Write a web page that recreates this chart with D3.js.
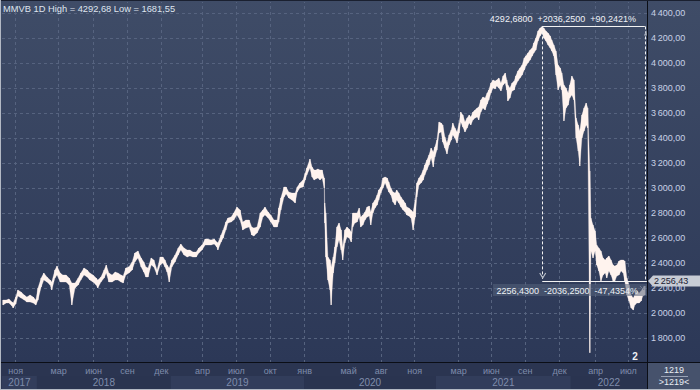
<!DOCTYPE html>
<html>
<head>
<meta charset="utf-8">
<script src="https://cdnjs.cloudflare.com/ajax/libs/d3/7.8.5/d3.min.js"></script>
<style>
html,body{margin:0;padding:0;background:#2b3551;}
svg{display:block;}
text{font-family:"Liberation Sans",Arial,sans-serif;}
</style>
</head>
<body>
<svg id="chart" width="700" height="390"></svg>
<script>
const ticker = "MMVB";
const timeframe = "1D";
const totalBars = 1219;

const bars = [2,8,13,19,21,26,30,36,42,47,
53,59,64,68,74,79,85,91,94,100,
104,110,115,121,127,132,138,144,149,155,
161,166,172,178,181,187,193,197,202,208,
214,219,225,229,234,240,246,251,257,263,
268,272,276,282,287,293,299,304,308,312,
316,321,327,333,338,344,350,355,361,367,
372,378,384,389,395,401,406,408,414,418,
423,427,433,438,444,450,455,461,467,472,
476,482,488,493,497,503,508,514,520,523,
527,533,537,542,548,554,558,563,569,573,
576,582,586,590,593,597,601,605,609,610,
612,616,620,622,626,629,633,637,641,644,
648,652,656,660,663,667,671,675,678,682,
686,690,694,697,701,705,709,712,716,720,
724,728,731,735,739,743,746,750,754,758,
762,765,769,773,777,781,784,788,792,796,
799,803,807,811,815,818,822,826,830,833,
837,841,845,849,852,856,860,864,867,871,
875,879,883,886,890,894,898,901,905,909,
913,917,920,924,928,932,935,939,943,947,
951,954,956,960,964,968,971,975,979,983,
987,990,994,998,1002,1005,1009,1013,1017,1021,
1024,1028,1032,1036,1039,1043,1047,1051,1055,1058,
1062,1066,1070,1073,1077,1081,1085,1089,1092,1096,
1100,1104,1107,1111,1113,1117,1121,1124,1128,1132,
1136,1140,1143,1147,1151,1155,1158,1162,1166,1170,
1174,1177,1181,1185,1189,1193,1196,1200,1204,1208,
1211,1215];

const highs = [2104,2104,2112,2088,2080,2128,2184,2168,2144,2128,
2144,2128,2104,2200,2280,2320,2288,2264,2248,2344,
2376,2320,2304,2304,2280,2240,2240,2280,2320,2360,
2344,2320,2304,2280,2264,2288,2344,2384,2320,2304,
2328,2320,2304,2296,2360,2370,2408,2480,2496,2440,
2408,2368,2360,2440,2424,2344,2448,2448,2424,2384,
2360,2424,2464,2520,2552,2520,2504,2504,2488,2488,
2520,2544,2592,2592,2584,2592,2568,2560,2624,2664,
2728,2760,2768,2800,2848,2824,2728,2744,2744,2688,
2680,2688,2800,2824,2848,2808,2784,2744,2744,2840,
2920,3008,3008,2968,2960,2960,3008,3040,3064,3120,
3160,3232,3168,3144,3144,3152,3144,3144,3080,2880,
2800,2448,2424,2368,2448,2528,2688,2720,2664,2528,
2664,2688,2672,2648,2800,2800,2800,2840,2768,2784,
2808,2848,2856,2808,2880,2904,2944,2984,3008,3080,
3088,3080,3048,3000,2968,2960,2984,2960,2928,2904,
2880,2848,2840,2824,2808,2904,3040,3080,3104,3144,
3184,3224,3264,3320,3288,3328,3384,3528,3520,3504,
3408,3360,3424,3464,3520,3480,3448,3520,3608,3584,
3528,3560,3584,3568,3608,3624,3640,3648,3704,3728,
3720,3760,3784,3840,3864,3856,3864,3880,3840,3896,
3920,3864,3824,3800,3840,3856,3896,3936,3960,3984,
4040,4056,4080,4104,4120,4160,4200,4256,4280,4292.68,
4280,4256,4240,4216,4184,4144,4096,3984,3960,3920,
3824,3800,3760,3824,3896,3864,3560,3504,3456,3584,
3640,3680,3640,3136,2760,2704,2656,2544,2520,2496,
2440,2424,2440,2456,2424,2384,2376,2384,2416,2424,
2424,2416,2280,2224,2144,2120,2144,2176,2160,2176,
2200,2216];

const lows = [2064,2080,2080,2056,2040,2072,2136,2120,2104,2088,
2088,2080,2064,2104,2208,2264,2248,2224,2184,2280,
2304,2248,2248,2248,2224,2064,2200,2224,2264,2304,
2288,2264,2248,2224,2200,2248,2280,2320,2248,2248,
2264,2264,2248,2240,2304,2320,2344,2408,2440,2368,
2328,2288,2288,2384,2368,2304,2384,2400,2368,2328,
2248,2368,2408,2464,2504,2464,2448,2456,2448,2448,
2480,2504,2544,2544,2544,2552,2528,2504,2568,2600,
2664,2720,2728,2744,2784,2744,2664,2680,2688,2624,
2616,2640,2688,2768,2784,2760,2728,2688,2688,2728,
2824,2928,2952,2920,2904,2880,2968,3000,3008,3064,
3104,3160,3088,3064,3072,3080,3064,3080,3000,2720,
2448,2264,2184,2064,2320,2400,2528,2584,2504,2424,
2560,2608,2600,2568,2688,2720,2728,2768,2688,2704,
2744,2768,2776,2704,2800,2840,2864,2904,2960,3000,
3040,3000,2968,2944,2888,2864,2904,2880,2848,2824,
2808,2784,2776,2760,2664,2768,2928,3024,3040,3064,
3104,3144,3184,3240,3168,3248,3304,3440,3448,3368,
3320,3272,3344,3384,3424,3400,3360,3440,3528,3488,
3448,3480,3520,3504,3544,3560,3568,3544,3608,3640,
3624,3672,3704,3760,3800,3792,3816,3800,3776,3824,
3840,3784,3696,3720,3776,3784,3824,3856,3880,3904,
3944,3976,4000,4024,4056,4080,4104,4176,4216,4240,
4200,4176,4144,4120,4096,4056,3904,3784,3824,3784,
3536,3640,3664,3720,3744,3704,3400,3296,3176,3400,
3456,3504,3480,1681.55,2496,2440,2496,2384,2336,2256,
2304,2320,2280,2336,2304,2256,2256,2296,2304,2336,
2320,2256,2144,2096,2040,2024,2064,2080,2080,2096,
2136,2144];

const priceTicks = [1800,2000,2200,2400,2600,2800,3000,3200,3400,3600,3800,4000,4200,4400];
const monthTicks = [25,106,172,236,300,378,442,506,571,654,716,779,862,924,988,1053,1121,1183];
const monthLabels = ["ноя","мар","июн","сен","дек","апр","июл","окт","янв","май","авг","ноя","мар","июн","сен","дек","апр","июл"];
const yearStarts = [0,66,319,571,820,1075];
const yearLabels = ["2017","2018","2019","2020","2021","2022"];
const measureBars = [1021,1215];
const measureValues = [4292.68,2256.43];
const lastValue = 2256.43;
const pageMarker = "2";

const W = 700, H = 390;
const plotL = 2, plotR = 647, plotT = 2, plotB = 362;
const svg = d3.select("#chart");

const loc = d3.formatLocale({decimal:",", thousands:"\u2009", grouping:[3], currency:["",""], minus:"-"});
const fmtAxis = loc.format(",.2f");
const fmt2 = loc.format(".2f");
const fmt4 = loc.format(".4f");
const fmt4s = loc.format("+.4f");

const x = d3.scaleLinear().domain([0,totalBars]).range([plotL,plotR]);
const y = d3.scaleLinear().domain([1608,4488]).range([plotB,plotT]);

const defs = svg.append("defs");
const g1 = defs.append("linearGradient").attr("id","bgGrad").attr("x1",0).attr("y1",0).attr("x2",0).attr("y2",1);
g1.append("stop").attr("offset","0%").attr("stop-color","#3f4c67");
g1.append("stop").attr("offset","100%").attr("stop-color","#2c3857");
defs.append("clipPath").attr("id","plotClip").append("rect")
  .attr("x",plotL).attr("y",plotT).attr("width",plotR-plotL).attr("height",plotB-plotT);

// backgrounds
svg.append("rect").attr("x",0).attr("y",0).attr("width",W).attr("height",plotB).attr("fill","url(#bgGrad)");
svg.append("rect").attr("x",0).attr("y",plotB).attr("width",W).attr("height",H-plotB).attr("fill","#2b3551");

// year bands
const yearEnds = yearStarts.slice(1).concat([totalBars]);
svg.append("g").selectAll("rect").data(yearStarts).join("rect")
  .attr("x",d=>x(d)).attr("y",376).attr("width",(d,i)=>x(yearEnds[i])-x(d)).attr("height",13)
  .attr("fill",(d,i)=>i%2===0?"#323d5b":"#2a3450");
svg.append("g").selectAll("text").data(yearStarts).join("text")
  .attr("x",(d,i)=>(x(d)+x(yearEnds[i]))/2).attr("y",385.5)
  .attr("text-anchor","middle").attr("font-size",10).attr("fill","#7f8cab")
  .text((d,i)=>yearLabels[i]);

// grid
const grid = svg.append("g").attr("clip-path","url(#plotClip)");
grid.selectAll("line.h").data(priceTicks).join("line").attr("class","h")
  .attr("x1",plotL).attr("x2",plotR).attr("y1",d=>Math.round(y(d))+0.5).attr("y2",d=>Math.round(y(d))+0.5)
  .attr("stroke","#56637f").attr("stroke-dasharray","3,3");
grid.selectAll("line.v").data(monthTicks).join("line").attr("class","v")
  .attr("x1",d=>Math.round(x(d))+0.5).attr("x2",d=>Math.round(x(d))+0.5).attr("y1",0).attr("y2",plotB)
  .attr("stroke","#56637f").attr("stroke-dasharray","3,3");

// month axis
const mAxis = svg.append("g").attr("transform",`translate(0,${plotB})`)
  .call(d3.axisBottom(x).tickValues(monthTicks).tickFormat((d,i)=>monthLabels[i]).tickSize(0).tickPadding(6));
mAxis.select(".domain").remove();
mAxis.selectAll("text").attr("font-size",9).attr("fill","#7f8cab").attr("font-family","Liberation Sans, Arial, sans-serif");

// series: high-low band plus a wick per reading
const data = bars.map((b,i)=>({b, hi:highs[i], lo:lows[i]}));
const area = d3.area().x(d=>x(d.b)).y0(d=>y(d.lo)).y1(d=>y(d.hi));
const sg = svg.append("g").attr("clip-path","url(#plotClip)");
sg.append("path").datum(data).attr("d",area).attr("fill","#fff3ee").attr("stroke","#fff3ee").attr("stroke-width",0.3);
sg.selectAll("line").data(data).join("line")
  .attr("x1",d=>x(d.b)).attr("x2",d=>x(d.b)).attr("y1",d=>y(d.hi)).attr("y2",d=>y(d.lo))
  .attr("stroke","#fff3ee").attr("stroke-width",1);

// measurement tool
const mx0 = x(measureBars[0]), mx1 = x(measureBars[1]);
const my0 = y(measureValues[0]), my1 = y(measureValues[1]);
const diff = measureValues[0]-measureValues[1];
const mg = svg.append("g");
mg.append("line").attr("x1",mx0).attr("x2",mx1).attr("y1",Math.round(my0)+0.5).attr("y2",Math.round(my0)+0.5).attr("stroke","#f2f2f2");
mg.append("line").attr("x1",mx0).attr("x2",mx1+2).attr("y1",Math.round(my1)+0.5).attr("y2",Math.round(my1)+0.5).attr("stroke","#f2f2f2");
mg.append("line").attr("x1",Math.round(mx0)+0.5).attr("x2",Math.round(mx0)+0.5).attr("y1",my0).attr("y2",my1-2)
  .attr("stroke","#f2f2f2").attr("stroke-dasharray","3,2");
mg.append("line").attr("x1",Math.round(mx1)+0.5).attr("x2",Math.round(mx1)+0.5).attr("y1",my0).attr("y2",my1)
  .attr("stroke","#f2f2f2").attr("stroke-dasharray","3,2");
mg.append("path").attr("d",`M${mx0-2.5},${my1-8} L${mx0+0.5},${my1-3} L${mx0+3.5},${my1-8}`)
  .attr("fill","none").attr("stroke","#b8bec9").attr("stroke-width",1.2);
mg.append("path").attr("d",`M${mx1-1},${my0+9} L${mx1+1.5},${my0+4} L${mx1+2},${my0+9} Z`).attr("fill","#aab1bd");
mg.append("path").attr("d",`M${mx1-5},${my1+5} L${mx1-1},${my1+9} L${mx1-1},${my1+5}`).attr("fill","none").attr("stroke","#9aa2b0");

mg.append("text").attr("x",636).attr("y",21.5).attr("text-anchor","end").attr("font-size",9).attr("fill","#eef1f6")
  .style("white-space","pre")
  .text(`${fmt4(measureValues[0])}\u00a0\u00a0${fmt4s(diff)}\u00a0\u00a0${fmt4s(diff/measureValues[1]*100)}%`);
mg.append("rect").attr("x",493).attr("y",284).attr("width",154).attr("height",12).attr("fill","#56627c").attr("opacity",0.55);
mg.append("text").attr("x",638).attr("y",293.5).attr("text-anchor","end").attr("font-size",9).attr("fill","#eef1f6")
  .style("white-space","pre")
  .text(`${fmt4(measureValues[1])}\u00a0\u00a0${fmt4s(-diff)}\u00a0\u00a0${fmt4s(-diff/measureValues[0]*100)}%`);

// marker
svg.append("text").attr("x",635).attr("y",360).attr("text-anchor","middle").attr("font-size",10).attr("font-weight","bold")
  .attr("fill","#f0f2f6").text(pageMarker);

// right axis
const rAxis = svg.append("g").attr("transform",`translate(${plotR},0)`)
  .call(d3.axisRight(y).tickValues(priceTicks).tickFormat(fmtAxis).tickSize(0).tickPadding(4));
rAxis.select(".domain").remove();
rAxis.selectAll("text").attr("font-size",9).attr("fill","#c8d2e6").attr("font-family","Liberation Sans, Arial, sans-serif");

// last value label
const ly = y(lastValue);
svg.append("path").attr("d",`M${plotR+1},${ly} L${plotR+6},${ly-5.5} L${W},${ly-5.5} L${W},${ly+5.5} L${plotR+6},${ly+5.5} Z`)
  .attr("fill","#c7ccd5");
svg.append("text").attr("x",654).attr("y",ly+3.5).attr("font-size",9).attr("fill","#1a2133").text(fmtAxis(lastValue));

// title
svg.append("text").attr("x",3).attr("y",11.5).attr("font-size",9.3).attr("fill","#dfe5ef")
  .text(`${ticker} ${timeframe} High = ${fmt2(d3.max(highs))} Low = ${fmt2(d3.min(lows))}`);

// bottom-right box
svg.append("rect").attr("x",plotR).attr("y",plotB).attr("width",W-plotR).attr("height",H-plotB).attr("fill","#46526c");
svg.append("text").attr("x",674).attr("y",373).attr("text-anchor","middle").attr("font-size",9).attr("fill","#e8ecf3").text(totalBars);
svg.append("line").attr("x1",661).attr("x2",688).attr("y1",376.5).attr("y2",376.5).attr("stroke","#9aa3b5");
svg.append("text").attr("x",674).attr("y",385).attr("text-anchor","middle").attr("font-size",9).attr("fill","#e8ecf3").text(`>${totalBars}<`);

// frame lines
svg.append("line").attr("x1",plotR+0.5).attr("x2",plotR+0.5).attr("y1",0).attr("y2",H).attr("stroke","#0b0e16");
svg.append("line").attr("x1",0).attr("x2",W).attr("y1",plotB+0.5).attr("y2",plotB+0.5).attr("stroke","#0b0e16");
svg.append("line").attr("x1",0).attr("x2",W).attr("y1",0.5).attr("y2",0.5).attr("stroke","#1a2030");
svg.append("line").attr("x1",0.5).attr("x2",0.5).attr("y1",0).attr("y2",H).attr("stroke","#b3b9c4");
svg.append("line").attr("x1",0).attr("x2",W).attr("y1",H-0.5).attr("y2",H-0.5).attr("stroke","#b3b9c4");
</script>
</body>
</html>
